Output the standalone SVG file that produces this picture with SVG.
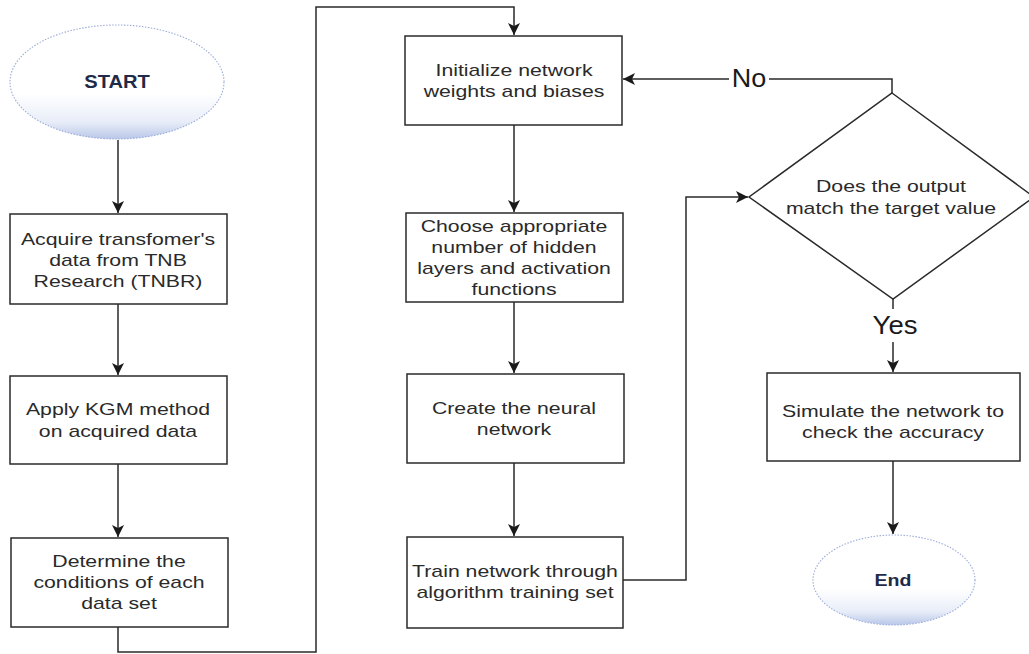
<svg xmlns="http://www.w3.org/2000/svg" width="1029" height="654" viewBox="0 0 1029 654">
<defs>
<linearGradient id="eg" x1="0" y1="0" x2="0" y2="1">
<stop offset="0" stop-color="#ffffff"/>
<stop offset="0.6" stop-color="#ffffff"/>
<stop offset="0.85" stop-color="#e8edf8"/>
<stop offset="1" stop-color="#b9c7e8"/>
</linearGradient>
<marker id="ah" markerUnits="userSpaceOnUse" markerWidth="14" markerHeight="14" refX="12" refY="6" orient="auto">
<path d="M0,0 L12,6 L0,12 L3,6 Z" fill="#1a1a1a"/>
</marker>
<style>
.box{fill:#ffffff;stroke:#2a2a2a;stroke-width:1.5}
.term{fill:url(#eg);stroke:#9aabd8;stroke-width:1.1;stroke-dasharray:1.5 1.5}
.t{font-family:"Liberation Sans",Arial,sans-serif;font-size:17px;fill:#2a2a2a;text-anchor:middle}
.tb{font-family:"Liberation Sans",Arial,sans-serif;font-weight:bold;fill:#1f2b48;text-anchor:middle}
.lbl{font-family:"Liberation Sans",Arial,sans-serif;font-size:25px;fill:#1a1a1a;text-anchor:middle}
.c{fill:none;stroke:#2a2a2a;stroke-width:1.5}
</style>
</defs>
<rect width="1029" height="654" fill="#ffffff"/>

<g id="connectors">
<path class="c" d="M118,140 V213" marker-end="url(#ah)"/>
<path class="c" d="M118,304 V375" marker-end="url(#ah)"/>
<path class="c" d="M118,464 V537" marker-end="url(#ah)"/>
<path class="c" d="M118,627 V652 H316 V7 H514 V35" marker-end="url(#ah)"/>
<path class="c" d="M514,125 V212" marker-end="url(#ah)"/>
<path class="c" d="M514,302 V373" marker-end="url(#ah)"/>
<path class="c" d="M514,463 V536" marker-end="url(#ah)"/>
<path class="c" d="M623,580 H686 V197 H748" marker-end="url(#ah)"/>
<path class="c" d="M892,93 V79 H769"/>
<path class="c" d="M729,79 H623" marker-end="url(#ah)"/>
<path class="c" d="M893,299 V309"/>
<path class="c" d="M893,342 V372" marker-end="url(#ah)"/>
<path class="c" d="M893,461 V534" marker-end="url(#ah)"/>
<text class="lbl" transform="translate(749 0) scale(1.08 1)" x="0" y="87">No</text>
<text class="lbl" transform="translate(895 0) scale(1.1 1)" x="0" y="334">Yes</text>
</g>

<g id="start">
<ellipse class="term" cx="117" cy="82" rx="107" ry="57"/>
<text class="tb" style="font-size:19px" transform="translate(117 0) scale(1.06 1)" x="0" y="88">START</text>
</g>

<g id="acquire">
<rect class="box" x="10" y="214" width="217" height="90"/>
<g transform="translate(118 0) scale(1.25 1)">
<text class="t" x="0" y="245">Acquire transfomer's</text>
<text class="t" x="0" y="266">data from TNB</text>
<text class="t" x="0" y="287">Research (TNBR)</text>
</g>
</g>

<g id="apply">
<rect class="box" x="10" y="376" width="217" height="88"/>
<g transform="translate(118 0) scale(1.25 1)">
<text class="t" x="0" y="415">Apply KGM method</text>
<text class="t" x="0" y="437">on acquired data</text>
</g>
</g>

<g id="determine">
<rect class="box" x="11" y="538" width="217" height="89"/>
<g transform="translate(119 0) scale(1.25 1)">
<text class="t" x="0" y="567">Determine the</text>
<text class="t" x="0" y="588">conditions of each</text>
<text class="t" x="0" y="609">data set</text>
</g>
</g>

<g id="initialize">
<rect class="box" x="405" y="36" width="217" height="89"/>
<g transform="translate(514 0) scale(1.25 1)">
<text class="t" x="0" y="76">Initialize network</text>
<text class="t" x="0" y="97">weights and biases</text>
</g>
</g>

<g id="choose">
<rect class="box" x="406" y="213" width="217" height="89"/>
<g transform="translate(514 0) scale(1.25 1)">
<text class="t" x="0" y="232">Choose appropriate</text>
<text class="t" x="0" y="253">number of hidden</text>
<text class="t" x="0" y="274">layers and activation</text>
<text class="t" x="0" y="295">functions</text>
</g>
</g>

<g id="create">
<rect class="box" x="407" y="374" width="217" height="89"/>
<g transform="translate(514 0) scale(1.25 1)">
<text class="t" x="0" y="414">Create the neural</text>
<text class="t" x="0" y="435">network</text>
</g>
</g>

<g id="train">
<rect class="box" x="407" y="537" width="216" height="91"/>
<g transform="translate(515 0) scale(1.25 1)">
<text class="t" x="0" y="577">Train network through</text>
<text class="t" x="0" y="598">algorithm training set</text>
</g>
</g>

<g id="decision">
<polygon class="box" points="892,93 1034,197 893,299 749,197"/>
<g transform="translate(891 0) scale(1.25 1)">
<text class="t" x="0" y="192">Does the output</text>
<text class="t" x="0" y="214">match the target value</text>
</g>
</g>

<g id="simulate">
<rect class="box" x="767" y="373" width="253" height="88"/>
<g transform="translate(893 0) scale(1.25 1)">
<text class="t" x="0" y="417">Simulate the network to</text>
<text class="t" x="0" y="438">check the accuracy</text>
</g>
</g>

<g id="end">
<ellipse class="term" cx="894" cy="580" rx="81" ry="45"/>
<text class="tb" style="font-size:17px" transform="translate(893 0) scale(1.15 1)" x="0" y="586">End</text>
</g>
</svg>
